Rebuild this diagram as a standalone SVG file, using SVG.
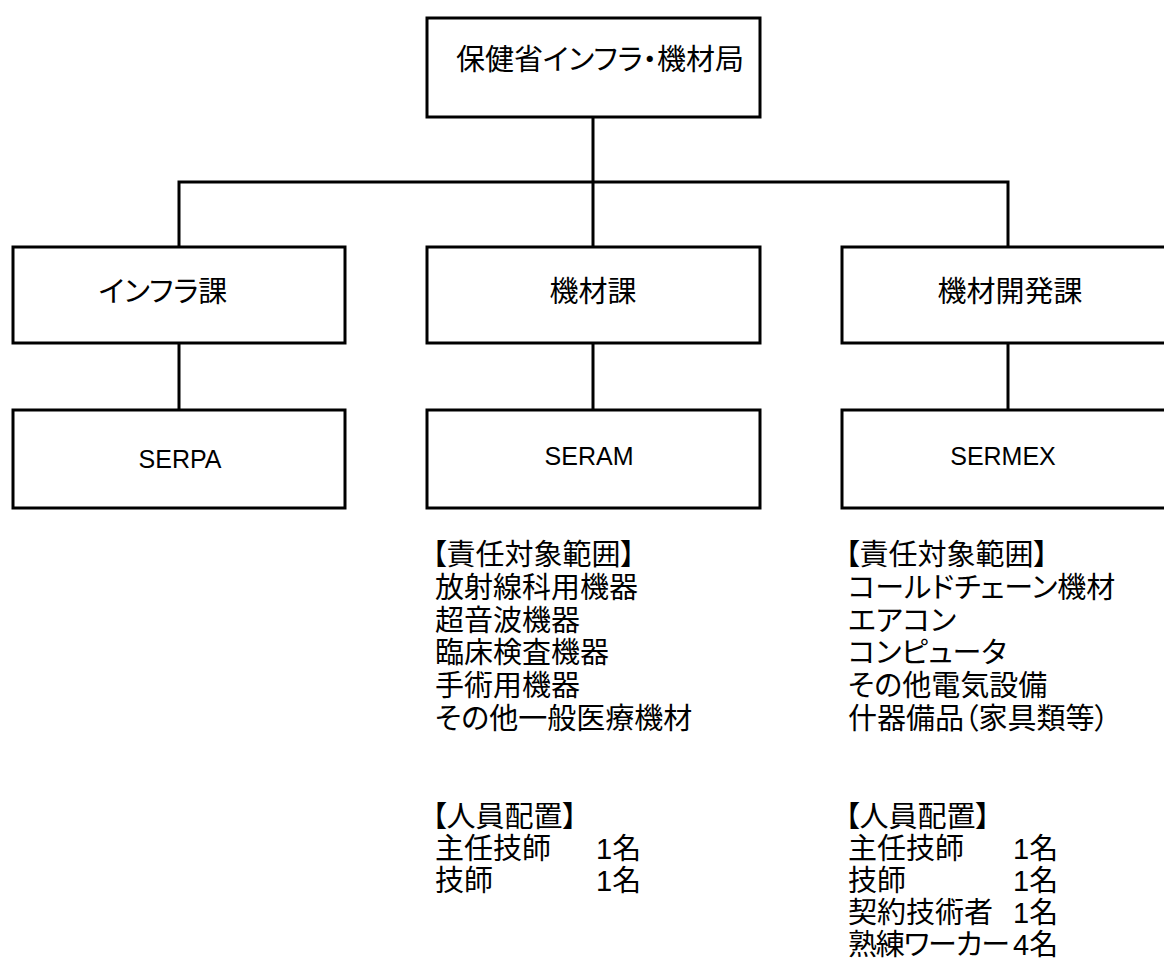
<svg xmlns="http://www.w3.org/2000/svg" width="1164" height="960" viewBox="0 0 1164 960">
<style>
.box{fill:#fff;stroke:#000;stroke-width:3}
.ln{stroke:#000;stroke-width:3;fill:none}
.jp{font-family:"Liberation Sans","Noto Sans CJK JP",sans-serif;font-size:29px;fill:#000;font-feature-settings:"palt" 1}
.lat{font-family:"Liberation Sans","Noto Sans CJK JP",sans-serif;font-size:25px;fill:#000}
.mid{text-anchor:middle}
</style>
<rect width="1164" height="960" fill="#fff"/>
<g id="connectors">
<path class="ln" d="M593,117 V247 M179,247 V182 H1008 V247"/>
<path class="ln" d="M179,343 V410 M593,343 V410 M1008,343 V410"/>
</g>
<g id="n-top">
<rect class="box" x="427" y="18" width="333" height="99"/>
<text class="jp mid" x="600" y="70">保健省インフラ・機材局</text>
</g>
<g id="n-infra">
<rect class="box" x="13" y="247" width="332" height="96"/>
<text class="jp mid" x="163" y="302">インフラ課</text>
</g>
<g id="n-kizai">
<rect class="box" x="427" y="247" width="333" height="96"/>
<text class="jp mid" x="593" y="302">機材課</text>
</g>
<g id="n-kaihatsu">
<rect class="box" x="842" y="247" width="340" height="96"/>
<text class="jp mid" x="1010" y="302">機材開発課</text>
</g>
<g id="n-serpa">
<rect class="box" x="13" y="410" width="332" height="98"/>
<text class="lat mid" x="180" y="468">SERPA</text>
</g>
<g id="n-seram">
<rect class="box" x="427" y="410" width="333" height="98"/>
<text class="lat mid" x="589" y="465">SERAM</text>
</g>
<g id="n-sermex">
<rect class="box" x="842" y="410" width="340" height="98"/>
<text class="lat mid" x="1003" y="465">SERMEX</text>
</g>
<g id="t-seram" class="jp">
<text x="432" y="565">【責任対象範囲】</text>
<text x="435" y="598">放射線科用機器</text>
<text x="435" y="631">超音波機器</text>
<text x="435" y="663">臨床検査機器</text>
<text x="435" y="696">手術用機器</text>
<text x="435" y="729">その他一般医療機材</text>
<text x="432" y="827">【人員配置】</text>
<text x="435" y="859">主任技師</text><text x="596" y="859">1名</text>
<text x="435" y="891">技師</text><text x="596" y="891">1名</text>
</g>
<g id="t-sermex" class="jp">
<text x="845" y="565">【責任対象範囲】</text>
<text x="848" y="598">コールドチェーン機材</text>
<text x="848" y="631">エアコン</text>
<text x="848" y="663">コンピュータ</text>
<text x="848" y="696">その他電気設備</text>
<text x="848" y="729">什器備品（家具類等）</text>
<text x="845" y="827">【人員配置】</text>
<text x="848" y="859">主任技師</text><text x="1013" y="859">1名</text>
<text x="848" y="891">技師</text><text x="1013" y="891">1名</text>
<text x="848" y="923">契約技術者</text><text x="1013" y="923">1名</text>
<text x="848" y="955" textLength="162" lengthAdjust="spacing">熟練ワーカー</text><text x="1013" y="955">4名</text>
</g>
</svg>
